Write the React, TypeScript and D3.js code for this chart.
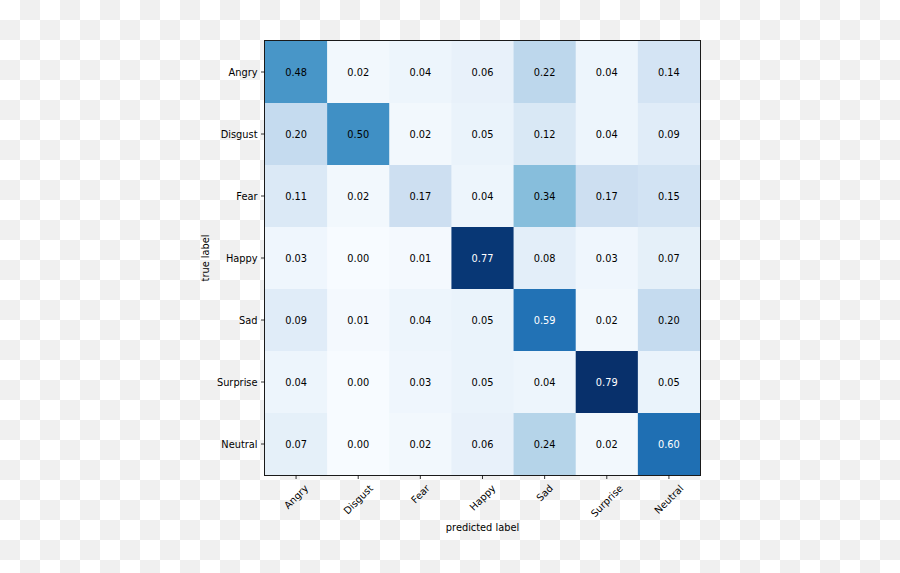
import React from "react";
import * as d3 from "d3";

const classes = ["Angry", "Disgust", "Fear", "Happy", "Sad", "Surprise", "Neutral"];
const angryRow = [0.48, 0.02, 0.04, 0.06, 0.22, 0.04, 0.14];
const disgustRow = [0.2, 0.5, 0.02, 0.05, 0.12, 0.04, 0.09];
const fearRow = [0.11, 0.02, 0.17, 0.04, 0.34, 0.17, 0.15];
const happyRow = [0.03, 0.0, 0.01, 0.77, 0.08, 0.03, 0.07];
const sadRow = [0.09, 0.01, 0.04, 0.05, 0.59, 0.02, 0.2];
const surpriseRow = [0.04, 0.0, 0.03, 0.05, 0.04, 0.79, 0.05];
const neutralRow = [0.07, 0.0, 0.02, 0.06, 0.24, 0.02, 0.6];
const matrix = [angryRow, disgustRow, fearRow, happyRow, sadRow, surpriseRow, neutralRow];

const xLabel = "predicted label";
const yLabel = "true label";

const W = 900;
const H = 573;
const plot = { left: 265, top: 41, right: 700, bottom: 475 };
const FONT = "DejaVu Sans";
const FS = 9.8;

const bluesStops = ["#f7fbff", "#deebf7", "#c6dbef", "#9ecae1", "#6baed6", "#4292c6", "#2171b5", "#08519c", "#08306b"];

function measure(text: string): number {
  if (typeof document === "undefined") return text.length * 6;
  const c = document.createElement("canvas");
  const ctx = c.getContext("2d");
  if (!ctx) return text.length * 6;
  ctx.font = `${FS}px "${FONT}"`;
  return ctx.measureText(text).width;
}

export default function App() {
  const x = d3.scaleBand<string>().domain(classes).range([plot.left, plot.right]);
  const y = d3.scaleBand<string>().domain(classes).range([plot.top, plot.bottom]);
  const all = matrix.flat();
  const vmin = d3.min(all) as number;
  const vmax = d3.max(all) as number;
  const color = d3
    .scaleLinear<string>()
    .domain(bluesStops.map((_, i) => vmin + ((vmax - vmin) * i) / (bluesStops.length - 1)))
    .range(bluesStops)
    .interpolate(d3.interpolateRgb);
  const thresh = 0.55;
  const tickLen = 3.5;

  return (
    <div style={{ position: "absolute", left: 0, top: 0, width: W, height: H }}>
      <svg width={W} height={H} style={{ display: "block" }} fontFamily={FONT}>
        <defs>
          <pattern id="checker" width={40} height={40} patternUnits="userSpaceOnUse">
            <rect x={0} y={0} width={40} height={40} fill="#ffffff" />
            <rect x={20} y={0} width={20} height={20} fill="#f0f0f0" />
            <rect x={0} y={20} width={20} height={20} fill="#f0f0f0" />
          </pattern>
        </defs>
        <rect x={0} y={0} width={W} height={H} fill="url(#checker)" />
        {matrix.map((row, i) =>
          row.map((v, j) => (
            <rect
              key={`c${i}-${j}`}
              x={x(classes[j])}
              y={y(classes[i])}
              width={x.bandwidth() + 0.5}
              height={y.bandwidth() + 0.5}
              fill={color(v)}
            />
          ))
        )}
        {matrix.map((row, i) =>
          row.map((v, j) => (
            <text
              key={`t${i}-${j}`}
              x={(x(classes[j]) as number) + x.bandwidth() / 2}
              y={(y(classes[i]) as number) + y.bandwidth() / 2}
              textAnchor="middle"
              dominantBaseline="central"
              fontSize={FS}
              fill={v > thresh ? "#ffffff" : "#000000"}
            >
              {v.toFixed(2)}
            </text>
          ))
        )}
        <rect
          x={plot.left - 0.5}
          y={plot.top - 0.5}
          width={plot.right - plot.left + 1}
          height={plot.bottom - plot.top + 1}
          fill="none"
          stroke="#1a1a1a"
          strokeWidth={1}
        />
        {classes.map((c) => {
          const cy = (y(c) as number) + y.bandwidth() / 2;
          return (
            <g key={`y${c}`}>
              <line x1={plot.left - 0.5 - tickLen} x2={plot.left - 0.5} y1={cy} y2={cy} stroke="#000" strokeWidth={0.8} />
              <text x={plot.left - tickLen - 4} y={cy} textAnchor="end" dominantBaseline="central" fontSize={FS} fill="#000">
                {c}
              </text>
            </g>
          );
        })}
        {classes.map((c) => {
          const cx = (x(c) as number) + x.bandwidth() / 2;
          const w = measure(c);
          const h = FS * 1.15;
          const bb = (w + h) / Math.SQRT2;
          const top = plot.bottom + tickLen + 4;
          return (
            <g key={`x${c}`}>
              <line x1={cx} x2={cx} y1={plot.bottom + 0.5} y2={plot.bottom + 0.5 + tickLen} stroke="#000" strokeWidth={0.8} />
              <text
                transform={`translate(${cx},${top + bb / 2}) rotate(-45)`}
                textAnchor="middle"
                dominantBaseline="central"
                fontSize={FS}
                fill="#000"
              >
                {c}
              </text>
            </g>
          );
        })}
        <text x={(plot.left + plot.right) / 2} y={527} textAnchor="middle" dominantBaseline="central" fontSize={FS} fill="#000">
          {xLabel}
        </text>
        <text
          transform={`translate(205,${(plot.top + plot.bottom) / 2}) rotate(-90)`}
          textAnchor="middle"
          dominantBaseline="central"
          fontSize={FS}
          fill="#000"
        >
          {yLabel}
        </text>
      </svg>
    </div>
  );
}
